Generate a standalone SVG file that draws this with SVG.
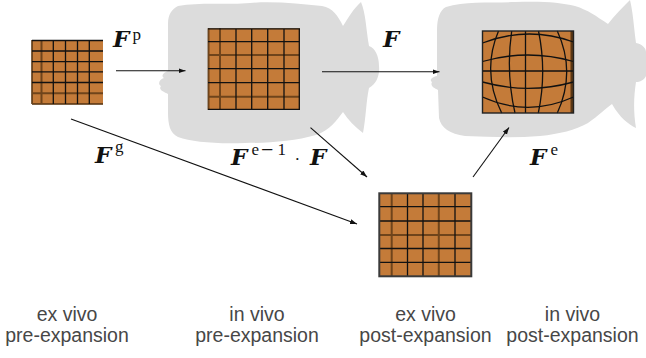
<svg xmlns="http://www.w3.org/2000/svg" width="646" height="358" viewBox="0 0 646 358">
  <style>
    .blob { fill: #dcdcdc; }
    .tissue { fill: #c47b39; }
    .gk { stroke: #111; stroke-width: 1.3; fill: none; }
    .gb { stroke: #5a3714; stroke-opacity: 0.8; stroke-width: 2; fill: none; }
    .edge { stroke: #222; stroke-width: 1.4; fill: none; }
    .conn line { stroke: #111; stroke-width: 1.1; marker-end: url(#head); }
    .F { font-family: "DejaVu Serif", "Liberation Serif", serif; font-weight: bold; font-style: italic; font-size: 23px; fill: #111; }
    .sup { font-family: "Liberation Serif", "DejaVu Serif", serif; font-size: 17px; fill: #111; }
    .cap { font-family: "Liberation Sans", Arial, sans-serif; font-size: 19.5px; fill: #474747; text-anchor: middle; }
  </style>
  <defs>
    <marker id="head" markerUnits="userSpaceOnUse" markerWidth="8" markerHeight="6" refX="7" refY="2.5" orient="auto">
      <path d="M0,0 L7,2.5 L0,5 Z" fill="#111"/>
    </marker>
  </defs>

  <!-- grey tissue silhouettes behind the in vivo samples -->
  <g id="silhouettes">
    <path class="blob" d="M 178,6 C 200,2 225,5 250,3 C 275,1 300,4 322,6 C 333,8 338,16 343,26 C 348,18 354,8 361,2 C 366,14 366,30 369,46 C 375,48 379,56 379,66 C 380,76 376,84 369,88 C 366,102 366,118 363,133 C 355,127 348,120 343,112 C 337,120 330,130 316,135 C 295,141 270,143 245,143 C 215,144 192,142 178,137 C 170,133 168,125 168,112 L 168,94 C 164,92 158,90 161,86 C 157,84 160,79 164,78 C 160,75 165,72 168,71 L 168,24 C 168,14 172,9 178,6 Z"/>
    <path class="blob" d="M 446,7 C 465,1 490,3 515,2 C 540,1 560,2 575,6 C 588,10 596,16 608,24 C 614,16 622,8 630,0 C 633,12 634,28 636,43 C 642,44 646,48 646,52 L 646,76 C 644,80 640,82 636,82 C 634,95 633,110 636,128 C 628,124 620,118 612,104 C 606,108 598,116 588,123 C 575,130 560,134 540,136 C 515,138 490,137 465,136 C 450,134 441,128 439,118 L 438,90 C 434,88 430,86 432,82 C 429,80 432,77 437,76 L 437,30 C 437,18 440,10 446,7 Z"/>
  </g>

  <!-- ex vivo, pre-expansion -->
  <g id="exvivo-pre">
    <rect class="tissue" x="32" y="40" width="71" height="64"/>
    <path class="gb" d="M41.5,40 V104 M32,93.3 H103 M32,40 V104 M32,104 H103"/>
    <path class="gk" d="M53.3,40 V104 M65.5,40 V104 M77.5,40 V104 M89.3,40 V104 M32,51 H103 M32,61.7 H103 M32,71.8 H103 M32,82.5 H103 M32,40.5 H103"/>
  </g>

  <!-- in vivo, pre-expansion -->
  <g id="invivo-pre">
    <rect class="tissue" x="208" y="28.3" width="92" height="81.7"/>
    <path class="gb" d="M220,28.3 V110 M208,55 H300 M208,96.7 H300 M208.5,28.3 V110"/>
    <path class="gk" d="M236,28.3 V110 M251.7,28.3 V110 M267.7,28.3 V110 M284,28.3 V110 M208,41.7 H300 M208,68.7 H300 M208,82.7 H300 M208,28.8 H300 M299.3,28.3 V110 M208,109.3 H300"/>
  </g>

  <!-- ex vivo, post-expansion -->
  <g id="exvivo-post">
    <rect class="tissue" x="379.3" y="193.3" width="92" height="83"/>
    <path class="gb" d="M391.7,193.3 V276.3 M438.8,193.3 V276.3 M379.3,235 H471.3"/>
    <path class="gk" d="M407.5,193.3 V276.3 M423,193.3 V276.3 M455,193.3 V276.3 M379.3,206.7 H471.3 M379.3,221 H471.3 M379.3,248.5 H471.3 M379.3,262.3 H471.3"/>
    <rect x="379.3" y="193.3" width="92" height="83" fill="none" stroke="#3a3a3a" stroke-width="2"/>
  </g>

  <!-- in vivo, post-expansion: distorted grid -->
  <g id="invivo-post">
    <rect class="tissue" x="482.5" y="31" width="91" height="82"/>
    <rect x="570.5" y="31" width="3" height="82" fill="#5a3714"/>
    <path class="gk" d="M498.5,31 Q481.3,72 501.7,113 M511.7,31 Q505.7,72 515,113 M525.5,31 V113 M538.5,31 Q547,72 538.3,113 M557.3,31 Q576.1,72 557.3,113"/>
    <path class="gk" d="M482.5,43 Q528,25.5 573.5,42 M482.5,61.5 Q528,48.5 573.5,61.5 M482.5,71 H573.5 M482.5,82 Q528,94.6 573.5,82 M482.5,97 Q528,117.6 573.5,97"/>
    <rect class="edge" x="482.5" y="31" width="91" height="82"/>
  </g>

  <!-- deformation maps -->
  <g id="connectors" class="conn">
    <line x1="116" y1="70.7" x2="185.5" y2="70.7"/>
    <line x1="322" y1="71.7" x2="439.5" y2="71.7"/>
    <line x1="71" y1="119" x2="357" y2="224"/>
    <line x1="310.5" y1="127.7" x2="367" y2="177"/>
    <line x1="473" y1="177" x2="509" y2="127.5"/>
  </g>

  <g id="map-labels">
    <text class="F" x="113" y="46.5">F</text>
    <text class="sup" x="132.5" y="40">p</text>
    <text class="F" x="383" y="47">F</text>
    <text class="F" x="95" y="163.3">F</text>
    <text class="sup" x="115" y="152">g</text>
    <text class="F" x="231" y="165">F</text>
    <text class="sup" y="155"><tspan x="251.5">e</tspan><tspan x="261" font-size="22" dy="2">−</tspan><tspan x="277.5" dy="-2">1</tspan></text>
    <text class="sup" x="294.5" y="165" font-size="26">·</text>
    <text class="F" x="310" y="165">F</text>
    <text class="F" x="530" y="165">F</text>
    <text class="sup" x="550.5" y="155">e</text>
  </g>

  <g id="stage-labels">
    <text class="cap" x="67" y="320.5">ex vivo</text>
    <text class="cap" x="67" y="342">pre-expansion</text>
    <text class="cap" x="257" y="320.5">in vivo</text>
    <text class="cap" x="257" y="342">pre-expansion</text>
    <text class="cap" x="425.5" y="320.5">ex vivo</text>
    <text class="cap" x="425.5" y="342">post-expansion</text>
    <text class="cap" x="572.5" y="320.5">in vivo</text>
    <text class="cap" x="572.5" y="342">post-expansion</text>
  </g>
</svg>
